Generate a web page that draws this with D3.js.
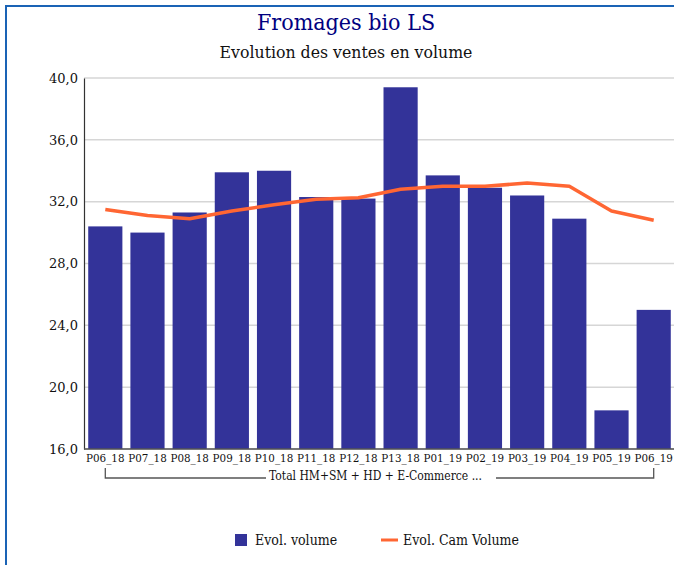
<!DOCTYPE html>
<html><head><meta charset="utf-8">
<script src="https://cdn.jsdelivr.net/npm/d3@7"></script>
<style>body{margin:0;background:#fff}svg{display:block}</style>
</head><body>
<script>
const categories = ["P06_18","P07_18","P08_18","P09_18","P10_18","P11_18","P12_18","P13_18","P01_19","P02_19","P03_19","P04_19","P05_19","P06_19"];
const volume = [30.4,30.0,31.3,33.9,34.0,32.3,32.2,39.4,33.7,32.9,32.4,30.9,18.5,25.0];
const camVolume = [31.5,31.1,30.9,31.4,31.8,32.15,32.25,32.8,33.0,33.0,33.2,33.0,31.4,30.8];
const yTicks = [16,20,24,28,32,36,40];
const titleText = "Fromages bio LS";
const subtitleText = "Evolution des ventes en volume";
const groupLabel = "Total HM+SM + HD + E-Commerce ...";
const seriesNames = ["Evol. volume","Evol. Cam Volume"];

const W=674,H=565;
const serif = "'DejaVu Serif', serif";
const condensed = "'DejaVu Serif Condensed', 'DejaVu Serif', serif";
const svg = d3.select("body").append("svg").attr("width",W).attr("height",H);

// frame
svg.append("rect").attr("x",6).attr("y",6).attr("width",W+20).attr("height",H+20)
  .attr("fill","none").attr("stroke","#1a63b5").attr("stroke-width",2);

svg.append("text").attr("x",346).attr("y",30).attr("text-anchor","middle")
  .attr("font-family",condensed).attr("font-stretch","condensed").attr("font-size",23).attr("fill","#000080").text(titleText);
svg.append("text").attr("x",346).attr("y",58).attr("text-anchor","middle")
  .attr("font-family",condensed).attr("font-stretch","condensed").attr("font-size",17.5).attr("fill","#111").text(subtitleText);

const x0=84, x1=675, yTop=78, yBot=449;
const x = d3.scaleBand().domain(categories).range([x0,x1]).paddingInner(0.19).paddingOuter(0.1);
const y = d3.scaleLinear().domain([16,40]).range([yBot,yTop]);

// grid
svg.append("g").selectAll("line").data(yTicks).join("line")
  .attr("x1",x0).attr("x2",W).attr("y1",d=>y(d)).attr("y2",d=>y(d))
  .attr("stroke","#d6d6d6").attr("stroke-width",1.5);

// bars
svg.append("g").selectAll("rect").data(volume).join("rect")
  .attr("x",(d,i)=>x(categories[i])).attr("width",x.bandwidth())
  .attr("y",d=>y(d)).attr("height",d=>y(16)-y(d)).attr("fill","#333399");

// line
const line = d3.line().x((d,i)=>x(categories[i])+x.bandwidth()/2).y(d=>y(d));
svg.append("path").datum(camVolume).attr("d",line).attr("fill","none")
  .attr("stroke","#ff6633").attr("stroke-width",3.5).attr("stroke-linejoin","round");

// y axis
const yAxis = d3.axisLeft(y).tickValues(yTicks).tickSize(0).tickPadding(6)
  .tickFormat(d=>d3.format(".1f")(d).replace(".",","));
const gy = svg.append("g").attr("transform",`translate(${x0},0)`).call(yAxis);
gy.select(".domain").attr("stroke","#333").attr("stroke-width",1.2);
gy.selectAll("text").attr("font-family",serif).attr("font-size",13).attr("fill","#111");

// x axis
const xAxis = d3.axisBottom(x).tickSize(0).tickPadding(5);
const gx = svg.append("g").attr("transform",`translate(0,${yBot})`).call(xAxis);
gx.select(".domain").attr("d",`M${x0},0H${W}`).attr("stroke","#555").attr("stroke-width",1.5);
gx.selectAll("text").attr("font-family",condensed).attr("font-stretch","condensed").attr("font-size",11.5).attr("fill","#111");

// group bracket
const cx0 = x(categories[0])+x.bandwidth()/2, cx1 = x(categories[categories.length-1])+x.bandwidth()/2;
const midX = (cx0+cx1)/2;
const gb = svg.append("g");
const lbl = gb.append("text").attr("x",midX-4).attr("y",480).attr("text-anchor","middle")
  .attr("font-family",condensed).attr("font-stretch","condensed").attr("font-size",12).attr("fill","#111").text(groupLabel);
const bb = lbl.node().getBBox();
gb.append("path").attr("d",`M${cx0},468V478H${bb.x-3}M${bb.x+bb.width+14},478H${cx1}V468`)
  .attr("fill","none").attr("stroke","#555").attr("stroke-width",1.3);

// legend
const lg = svg.append("g").attr("font-family",condensed).attr("font-stretch","condensed").attr("font-size",14).attr("fill","#111");
lg.append("rect").attr("x",235).attr("y",534).attr("width",12).attr("height",12).attr("fill","#333399");
lg.append("text").attr("x",255).attr("y",545).text(seriesNames[0]);
lg.append("line").attr("x1",381).attr("x2",398).attr("y1",540).attr("y2",540).attr("stroke","#ff6633").attr("stroke-width",3);
lg.append("text").attr("x",403).attr("y",545).text(seriesNames[1]);
</script>
</body></html>
